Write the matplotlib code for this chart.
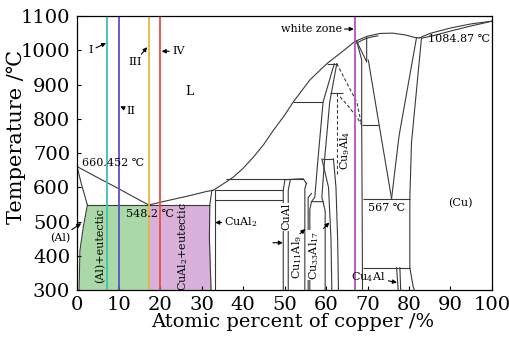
""" Al-Cu phase diagram with the four alloy sections marked """

import numpy as np
import matplotlib.pyplot as plt

plt.rcParams['font.family'] = ['DejaVu Serif', 'DejaVu Sans']
plt.rcParams['mathtext.fontset'] = 'dejavuserif'

# ---- data: phase boundaries (at.% Cu, temperature in deg C) ----
liq_al_x = [0, 5, 10, 15, 17.3]
liq_al_t = [660.452, 628, 596, 563, 548.2]
liq_eut_x = [17.3, 20, 24, 27.3, 31.3, 32.8]
liq_eut_t = [548.2, 556, 567, 576, 588, 591]
liq_hi_x = [32.8, 35, 37.7, 40, 42.5, 45, 47.3, 50, 52.1, 56.1, 60.2, 63.4,
            67, 70, 73, 76, 79, 81.5, 82.5]
liq_hi_t = [591, 608, 630, 655, 688, 725, 766, 810, 849, 913, 961, 991,
            1026, 1041, 1049, 1050, 1045, 1037, 1036]
liq_cu_x = [82.5, 85, 90, 95, 100]
liq_cu_t = [1036, 1049, 1065, 1077, 1084.87]
sol_cu_x = [83, 86, 90, 95, 100]
sol_cu_t = [1035, 1043, 1056, 1071, 1084.87]
sol_beta_x = [67.4, 69, 70.6, 72.5]
sol_beta_t = [1021, 1031, 1038, 1042]

sol_al_x = [0, 1.05, 2.5]
sol_al_t = [660.452, 610, 548.2]
solvus_al_x = [2.5, 1.5, 0.7, 0.5]
solvus_al_t = [548.2, 483, 415, 300]

theta_left_x = [32.5, 32.0, 31.9, 32.3]
theta_left_t = [591, 548.2, 450, 300]
theta_right_x = [33.2, 33.2]
theta_right_t = [591, 300]

eta_left_x = [49.7, 49.7, 50.1, 54.5, 55.3]
eta_left_t = [300, 591, 622, 625, 610]
eta_right_x = [50.9, 50.9, 51.4]
eta_right_t = [300, 591, 622]
z1_x = [54.9, 54.9, 55.3]
z1_t = [300, 596, 612]
z2_x = [55.7, 55.7, 56.5]
z2_t = [300, 570, 582]
zeta_x = [56.1, 56.1, 56.5, 59.3, 59.8, 59.8]
zeta_t = [300, 535, 558, 558, 530, 300]

gam_a_x = [62.0, 59.3, 58.1, 57.3, 56.5]
gam_a_t = [961, 849, 687, 571, 558]
gam_b_x = [62.6, 60.9, 59.7, 59.0, 59.3]
gam_b_t = [961, 849, 687, 571, 558]
gam_c_x = [61.8, 62.4, 62.8, 63.0]
gam_c_t = [683, 600, 450, 300]
gam_d_x = [59.0, 60.6, 61.2, 61.4]
gam_d_t = [683, 600, 450, 300]

beta_left_x = [67.4, 68.6, 68.6, 68.7, 68.8]
beta_left_t = [1026, 972, 782, 567, 300]
beta_tri_x = [67.4, 69.8, 69.8]
beta_tri_t = [1026, 966, 1038]
beta_diag_l_x = [70.2, 72.8, 75.8]
beta_diag_l_t = [971, 782, 567]
beta_diag_r_x = [81.8, 77.6, 75.8]
beta_diag_r_t = [1036, 750, 567]
cu_left_x = [83, 80.6, 80.2, 80.2, 81, 81.3]
cu_left_t = [1035, 730, 567, 365, 310, 300]
cu4al_a_x = [77.0, 77.4]
cu4al_a_t = [365, 300]
cu4al_b_x = [77.8, 78.0]
cu4al_b_t = [365, 300]

# horizontal invariant lines: x start, x end, temperature
iso_x0 = [2.5, 36, 33.2, 33.2, 60.2, 52.1, 61.0, 59.0, 68.6, 68.8, 68.8]
iso_x1 = [32.0, 54.5, 49.7, 49.7, 62.6, 59.3, 64.1, 61.8, 72.8, 80.2, 80.2]
iso_t = [548.2, 625, 591, 562, 961, 849, 874, 683, 782, 567, 365]

# dashed (metastable) lines
dash1_x = [62.6, 65.0, 67.4, 68.6]
dash1_t = [961, 905, 849, 782]
dash2_x = [63.4, 65.5, 67.4, 68.6]
dash2_t = [864, 835, 805, 782]
dash3_x = [62.7, 62.7]
dash3_t = [874, 640]

# alloy sections I..IV and the white zone
alloy_x = [7.2, 10, 17.3, 20, 67]
alloy_colors = ['#3fc1b5', '#5b4fd0', '#e6b445', '#e8503f', '#b650c4']

fig = plt.figure(figsize=(5.10, 3.39), dpi=100)
ax = fig.add_axes([0.151, 0.1445, 0.8137, 0.8083])
ax.set_xlim(0, 100)
ax.set_ylim(300, 1100)

# coloured microstructure fields
tt = np.linspace(300, 548.2, 60)
x_solvus = np.interp(tt, solvus_al_t[::-1], solvus_al_x[::-1])
x_theta = np.interp(tt, theta_left_t[::-1], theta_left_x[::-1])
ax.fill_betweenx(tt, x_solvus, 17.3, color='#aad8a6', lw=0)
ax.fill_betweenx(tt, 17.3, x_theta, color='#d9b0da', lw=0)

lc = '#3a3a3a'
lw = 0.8
solid = [
    (liq_al_x, liq_al_t), (liq_eut_x, liq_eut_t), (liq_hi_x, liq_hi_t),
    (liq_cu_x, liq_cu_t), (sol_cu_x, sol_cu_t), (sol_beta_x, sol_beta_t),
    (sol_al_x, sol_al_t), (solvus_al_x, solvus_al_t),
    (theta_left_x, theta_left_t), (theta_right_x, theta_right_t),
    (eta_left_x, eta_left_t), (eta_right_x, eta_right_t),
    (z1_x, z1_t), (z2_x, z2_t), (zeta_x, zeta_t),
    (gam_a_x, gam_a_t), (gam_b_x, gam_b_t), (gam_c_x, gam_c_t), (gam_d_x, gam_d_t),
    (beta_left_x, beta_left_t), (beta_tri_x, beta_tri_t),
    (beta_diag_l_x, beta_diag_l_t), (beta_diag_r_x, beta_diag_r_t),
    (cu_left_x, cu_left_t), (cu4al_a_x, cu4al_a_t), (cu4al_b_x, cu4al_b_t),
]
for xs, ts in solid:
    ax.plot(xs, ts, color=lc, lw=lw)
ax.hlines(iso_t, iso_x0, iso_x1, color=lc, lw=lw)
for xs, ts in [(dash1_x, dash1_t), (dash2_x, dash2_t), (dash3_x, dash3_t)]:
    ax.plot(xs, ts, color=lc, lw=lw, ls=(0, (3, 2)))

for x, c in zip(alloy_x, alloy_colors):
    ax.axvline(x, color=c, lw=1.3)

# labels
fs = 8
arr = dict(arrowstyle='-|>', lw=0.8, color='black', mutation_scale=6, shrinkA=0, shrinkB=0)


def note(txt, xy, xytext, ha='center'):
    ax.annotate(txt, xy=xy, xytext=xytext, arrowprops=arr, fontsize=fs,
                ha=ha, va='center')


note('I', (7.0, 1021), (3.9, 1000), ha='right')
note('II', (10.4, 836), (12.0, 822), ha='left')
note('III', (16.9, 1009), (14.0, 966))
note('IV', (20.4, 997), (22.9, 997), ha='left')
note('white zone', (66.7, 1062), (63.8, 1062), ha='right')
note('CuAl$_2$', (33.3, 497), (35.5, 497), ha='left')
note('', (49.6, 438), (47.2, 438))
note('', (55.0, 478), (53.2, 458))
note('', (60.8, 497), (59.4, 480))
note('Cu$_4$Al', (77.1, 322), (66.1, 338), ha='left')
note('(Al)', (1.0, 495), (-1.6, 453), ha='right')

ax.text(27.2, 880, 'L', fontsize=fs + 1, ha='center', va='center')
ax.text(1.2, 672, '660.452 ℃', fontsize=fs, ha='left', va='center')
ax.text(11.8, 521, '548.2 ℃', fontsize=fs, ha='left', va='center')
ax.text(99.5, 1032, '1084.87 ℃', fontsize=fs, ha='right', va='center')
ax.text(70.1, 538, '567 ℃', fontsize=fs, ha='left', va='center')
ax.text(92.3, 555, '(Cu)', fontsize=fs, ha='center', va='center')

box = dict(facecolor='white', edgecolor='none', pad=0.3)
ax.text(5.5, 430, '(Al)+eutectic', fontsize=fs, rotation=90, ha='center', va='center')
ax.text(25.5, 427, 'CuAl$_2$+eutectic', fontsize=fs, rotation=90, ha='center', va='center')
ax.text(50.4, 514, 'CuAl', fontsize=fs, rotation=90, ha='center', va='center', bbox=box)
ax.text(53.0, 398, 'Cu$_{11}$Al$_9$', fontsize=fs, rotation=90, ha='center', va='center', bbox=box)
ax.text(57.2, 402, 'Cu$_{33}$Al$_{17}$', fontsize=fs, rotation=90, ha='center', va='center', bbox=box)
ax.text(64.6, 707, 'Cu$_9$Al$_4$', fontsize=fs, rotation=90, ha='center', va='center', bbox=box)

ax.set_xticks(range(0, 101, 10))
ax.set_yticks(range(300, 1101, 100))
ax.tick_params(direction='in', length=3, labelsize=14)
ax.tick_params(axis='x', pad=4)
ax.tick_params(axis='y', pad=5)
for s in ax.spines.values():
    s.set_linewidth(0.9)
ax.set_xlabel('Atomic percent of copper /%', fontsize=14)
ax.set_ylabel('Temperature /℃', fontsize=15)
ax.xaxis.set_label_coords(0.52, -0.085)
ax.yaxis.set_label_coords(-0.122, 0.56)

plt.savefig('out.png', dpi=100)
